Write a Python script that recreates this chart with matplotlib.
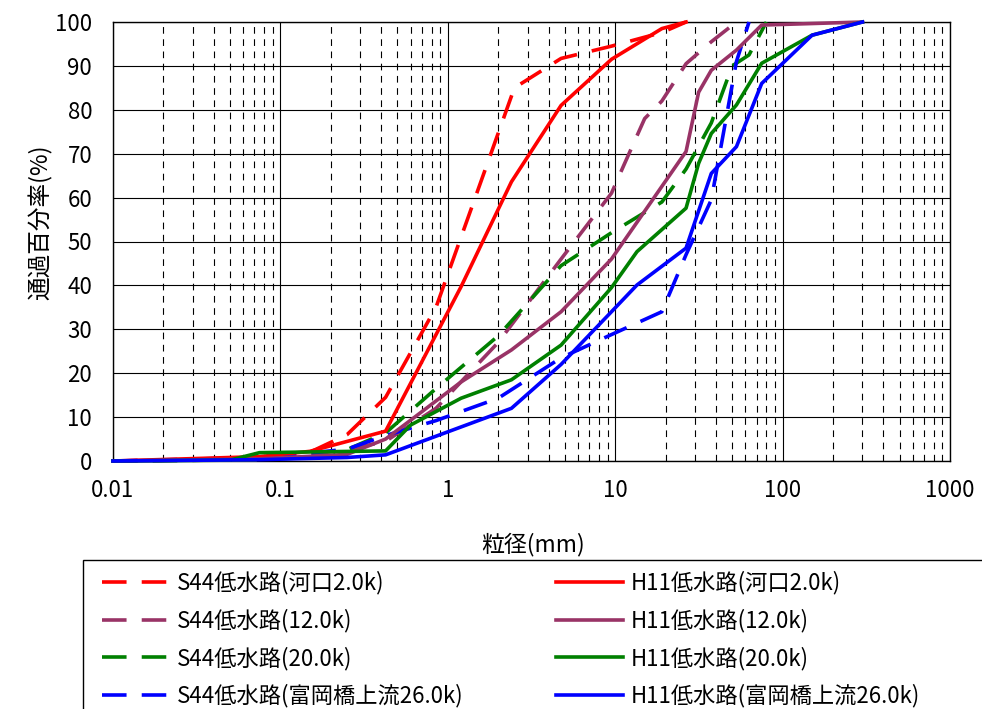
import matplotlib
matplotlib.use("Agg")
import matplotlib.pyplot as plt
from matplotlib.ticker import LogLocator, NullFormatter

plt.rcParams['font.family'] = ['Noto Sans CJK JP', 'DejaVu Sans']

# 粒径(mm) と 通過百分率(%) -- 図から読み取った値
s44_kako_x = [0.01, 0.075, 0.15, 0.25, 0.425, 0.85, 2.5, 4.75, 9.5, 19, 26.5]
s44_kako_y = [0, 0.5, 2.0, 6.0, 14.5, 35, 85, 91.7, 94.5, 97.6, 100]

s44_12_x = [0.01, 0.075, 0.25, 0.425, 0.85, 2.0, 4.75, 9.5, 11.3, 15, 19, 26.5, 37.5, 53]
s44_12_y = [0, 0.3, 2.5, 4.5, 12, 27, 46, 61, 67.5, 78, 82, 90.5, 95.5, 100]

s44_20_x = [0.01, 0.075, 0.2, 0.425, 0.85, 2.0, 4.75, 9.5, 19, 26.5, 37.5, 50, 63, 80]
s44_20_y = [0, 0.3, 1.0, 6.4, 16.5, 28.5, 44.5, 52, 59, 66.5, 77, 90, 92.5, 100]

s44_26_x = [0.01, 0.075, 0.106, 0.25, 0.425, 0.85, 2.0, 4.75, 9.5, 19, 26.5, 37.5, 53, 63]
s44_26_y = [0, 0.8, 1.2, 2.7, 5.8, 9.2, 14.3, 23.5, 28.8, 34, 47, 59.5, 91, 100]

h11_kako_x = [0.01, 0.075, 0.15, 0.425, 1.2, 2.4, 4.75, 9.5, 19, 26.5]
h11_kako_y = [0, 1.0, 2.2, 6.8, 39.7, 63.6, 81, 91.5, 98.5, 100]

h11_12_x = [0.01, 0.075, 0.25, 0.425, 0.6, 1.2, 2.4, 4.75, 9.5, 26.5, 31.5, 37.5, 53, 75, 300]
h11_12_y = [0, 0.5, 1.5, 5, 9.3, 18, 25.3, 34, 46, 70.5, 84, 89, 93.6, 99.3, 100]

h11_20_x = [0.01, 0.05, 0.075, 0.425, 0.6, 1.2, 2.4, 4.75, 9.5, 13.5, 26.5, 31.5, 37.5, 53, 75, 150, 300]
h11_20_y = [0, 0.2, 1.9, 2.3, 8.2, 14.3, 18.5, 26.4, 39.5, 47.7, 57.6, 67.8, 74.6, 81.1, 90.6, 97, 100]

h11_26_x = [0.01, 0.075, 0.25, 0.425, 2.4, 4.75, 9.5, 13.5, 26.5, 37.5, 53, 75, 150, 300]
h11_26_y = [0, 0.3, 0.8, 1.4, 12, 22, 34, 40.1, 48.5, 65.5, 71.6, 86, 97, 100]

etiquetas_s44 = ['S44低水路(河口2.0k)', 'S44低水路(12.0k)', 'S44低水路(20.0k)', 'S44低水路(富岡橋上流26.0k)']
etiquetas_h11 = ['H11低水路(河口2.0k)', 'H11低水路(12.0k)', 'H11低水路(20.0k)', 'H11低水路(富岡橋上流26.0k)']
colores = ['#FF0000', '#993366', '#008000', '#0000FF']

fig = plt.figure(figsize=(9.82, 7.09), dpi=100)
ax = fig.add_axes([113/982, 1 - 461/709, 837/982, 439/709])

serie_s44 = [(s44_kako_x, s44_kako_y), (s44_12_x, s44_12_y), (s44_20_x, s44_20_y), (s44_26_x, s44_26_y)]
serie_h11 = [(h11_kako_x, h11_kako_y), (h11_12_x, h11_12_y), (h11_20_x, h11_20_y), (h11_26_x, h11_26_y)]

lineas_s44 = []
for (x, y), c, lab in zip(serie_s44, colores, etiquetas_s44):
    l, = ax.plot(x, y, color=c, lw=2.6, linestyle=(0, (6.8, 4.2)), label=lab, clip_on=False, zorder=3)
    lineas_s44.append(l)
lineas_h11 = []
for (x, y), c, lab in zip(serie_h11, colores, etiquetas_h11):
    l, = ax.plot(x, y, color=c, lw=2.6, label=lab, clip_on=False, zorder=4)
    lineas_h11.append(l)

ax.set_xscale('log')
ax.set_xlim(0.01, 1000)
ax.set_ylim(0, 100)
ax.set_yticks(range(0, 101, 10))
ax.set_xticks([0.01, 0.1, 1, 10, 100, 1000])
ax.set_xticklabels(['0.01', '0.1', '1', '10', '100', '1000'])
ax.xaxis.set_minor_locator(LogLocator(base=10, subs=range(2, 10), numticks=20))
ax.xaxis.set_minor_formatter(NullFormatter())

ax.grid(True, which='major', axis='both', color='black', lw=0.8)
ax.grid(True, which='minor', axis='x', color='black', lw=0.8, linestyle=(0, (6, 5)))
ax.set_axisbelow(True)

ax.tick_params(axis='both', which='both', length=0, labelsize=16)
ax.tick_params(axis='x', pad=13)
ax.tick_params(axis='y', pad=15)
for s in ax.spines.values():
    s.set_color('black')
    s.set_linewidth(1.0)

ax.set_xlabel('粒径(mm)', fontsize=16.5)
ax.set_ylabel('通過百分率(%)', fontsize=17)
ax.xaxis.set_label_coords(0.502, -0.162)
ax.yaxis.set_label_coords(-0.072, 0.544)

# recuadro de la leyenda (se sale del borde derecho e inferior)
marco = plt.Rectangle((83/982, -0.1), 1.0, (709 - 560)/709 + 0.1, transform=fig.transFigure,
                      facecolor='white', edgecolor='black', lw=1.0)
fig.patches.append(marco)

opciones = dict(frameon=False, borderpad=0, borderaxespad=0, fontsize=16, handlelength=3.0,
                handletextpad=0.36, labelspacing=0.63, loc='upper left')
ley1 = fig.legend(lineas_s44, etiquetas_s44, bbox_to_anchor=(102/982, 1 - 571/709), **opciones)
ley2 = fig.legend(lineas_h11, etiquetas_h11, bbox_to_anchor=(556/982, 1 - 571/709), **opciones)

fig.savefig('out.png', dpi=100)
